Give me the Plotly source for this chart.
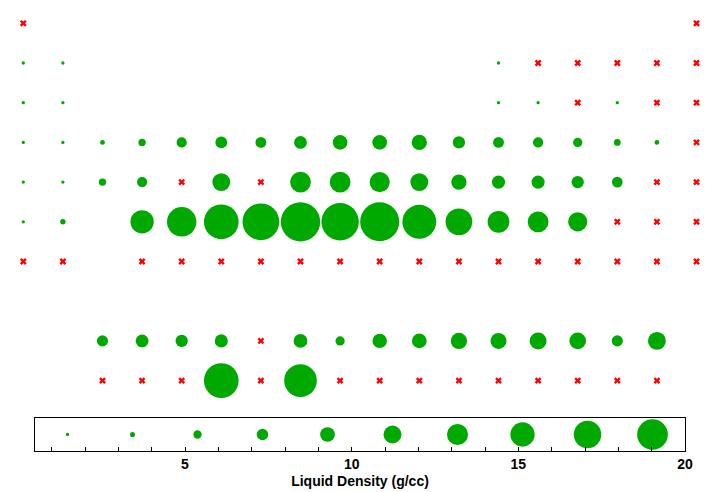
import plotly.graph_objects as go

N = None  # empty cell; 0 = failed (red cross); >0 = value shown as a green circle

row0 = [0, N, N, N, N, N, N, N, N, N, N, N, N, N, N, N, N, 0]
row1 = [1, 1, N, N, N, N, N, N, N, N, N, N, 1, 0, 0, 0, 0, 0]
row2 = [1, 1, N, N, N, N, N, N, N, N, N, N, 1, 1, 0, 1, 0, 0]
row3 = [1, 1, 1.9, 2.7, 3.6, 4.1, 3.8, 4.4, 5.0, 5.0, 5.2, 4.25, 3.8, 3.6, 3.3, 2.5, 1.9, 0]
row4 = [1, 1, 2.7, 3.6, 0, 6.0, 0, 6.9, 6.9, 6.7, 6.0, 5.2, 4.5, 4.5, 4.25, 3.75, 0, 0]
row5 = [1, 2.1, N, 7.7, 9.6, 11.25, 11.9, 12.7, 12.1, 12.6, 11.0, 8.75, 7.2, 6.9, 6.4, 0, 0, 0]
row6 = [0, 0, N, 0, 0, 0, 0, 0, 0, 0, 0, 0, 0, 0, 0, 0, 0, 0]
row7 = [N] * 18
row8 = [N, N, 3.9, 4.4, 4.25, 4.5, 0, 4.7, 3.3, 4.9, 5.0, 5.5, 5.4, 5.7, 5.6, 3.9, 6.0, N]
row9 = [N, N, 0, 0, 0, 11.25, 0, 10.6, 0, 0, 0, 0, 0, 0, 0, 0, 0, N]
rows = [row0, row1, row2, row3, row4, row5, row6, row7, row8, row9]

legend_values = [1, 2, 3, 4, 5, 6, 7, 8, 9, 10]
x_min, x_max = 0.5, 20.0
tick_vals = [5, 10, 15, 20]
x_title = "Liquid Density (g/cc)"

GREEN = "#00A900"
RED = "#FF0000"


def diam(v):
    return max(3.3, 3.2 * v - 1.3)


gx, gy, gs, rx, ry = [], [], [], [], []
for i, r in enumerate(rows):
    for j, v in enumerate(r):
        if v is None:
            continue
        if v == 0:
            rx.append(j); ry.append(i)
        else:
            gx.append(j); gy.append(i); gs.append(diam(v))

fig = go.Figure()
fig.add_trace(go.Scatter(x=gx, y=gy, mode="markers", xaxis="x2", yaxis="y2",
                         cliponaxis=False, hoverinfo="skip",
                         marker=dict(size=gs, color=GREEN, opacity=1, line=dict(width=0))))
fig.add_trace(go.Scatter(x=rx, y=ry, mode="markers", xaxis="x2", yaxis="y2",
                         cliponaxis=False, hoverinfo="skip",
                         marker=dict(size=6, symbol="x", color=RED, opacity=1,
                                     line=dict(width=0))))

step = (x_max - x_min) / len(legend_values)
lx = [x_min + step * (k + 0.5) for k in range(len(legend_values))]
fig.add_trace(go.Scatter(x=lx, y=[0.5] * len(lx), mode="markers", hoverinfo="skip",
                         cliponaxis=False,
                         marker=dict(size=[diam(v) for v in legend_values], color=GREEN,
                                     opacity=1, line=dict(width=0))))

W, H = 720, 492
mb = 41
plot_h = H - mb

fig.update_layout(
    width=W, height=H, showlegend=False,
    margin=dict(l=0, r=0, t=0, b=mb, autoexpand=False),
    paper_bgcolor="white", plot_bgcolor="rgba(0,0,0,0)",
    font=dict(family="Liberation Sans, Arial, sans-serif", color="black"),
    xaxis=dict(domain=[35 / W, 685 / W], range=[x_min, x_max], tickvals=tick_vals,
               automargin=False,
               ticks="inside", ticklen=4,
               tickcolor="black", showgrid=False, zeroline=False,
               showline=True, linecolor="black", linewidth=1.3, mirror=True,
               tickfont=dict(size=14, weight="bold"),
               minor=dict(dtick=1, tick0=0, ticks="inside", ticklen=4, tickcolor="black"),
               title=dict(text=x_title, font=dict(size=14, weight="bold"), standoff=5)),
    yaxis=dict(domain=[0, 33 / plot_h], range=[0, 1], showticklabels=False, ticks="",
               automargin=False,
               showgrid=False, zeroline=False, showline=True, linecolor="black",
               linewidth=1.3, mirror=True),
    xaxis2=dict(domain=[0, 1], range=[-0.588, 17.593], visible=False, anchor="y2",
                automargin=False),
    yaxis2=dict(domain=[0, 1], range=[10.773, -0.587], visible=False, anchor="x2",
                automargin=False),
)

fig.write_html("out.html")
